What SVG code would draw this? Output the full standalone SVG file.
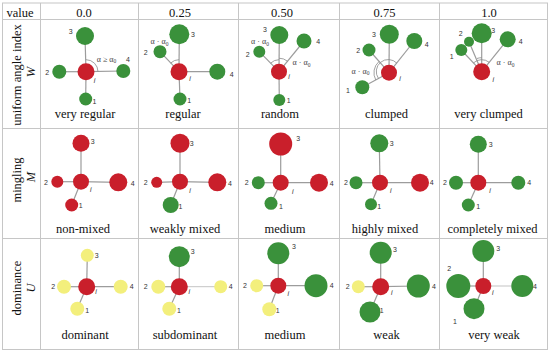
<svg xmlns="http://www.w3.org/2000/svg" width="550" height="356" viewBox="0 0 550 356">
<defs>
<style>
.g{fill:#3a913b}
.r{fill:#c91f2b}
.y{fill:#f3ef7c}
.ln{stroke:#9c9c9c;stroke-width:1.2}
.lnt{stroke:#b4b4b4;stroke-width:0.8}
.arc{fill:none;stroke:#8a8a8a;stroke-width:0.8}
.n{font-size:7px;fill:#333;text-anchor:middle}
.i{font-size:7px;font-style:italic;fill:#333;text-anchor:middle}
.a{font-size:8px;fill:#444;text-anchor:middle}
.sub{font-size:5.5px}
.cap{font-size:12.5px;fill:#111;text-anchor:middle}
.it{font-style:italic}
.grid{stroke:#c6c6c6;stroke-width:1;fill:none}
</style>
</defs>
<rect width="550" height="356" fill="#fff"/>

<g id="table">
<rect class="grid" x="2.5" y="3" width="545" height="346.5"/>
<line class="grid" x1="2.5" y1="19.5" x2="547.5" y2="19.5"/>
<line class="grid" x1="2.5" y1="128.5" x2="547.5" y2="128.5"/>
<line class="grid" x1="2.5" y1="238.5" x2="547.5" y2="238.5"/>
<line class="grid" x1="40.5" y1="3" x2="40.5" y2="349.5"/>
<line class="grid" x1="138.5" y1="3" x2="138.5" y2="349.5"/>
<line class="grid" x1="238.5" y1="3" x2="238.5" y2="349.5"/>
<line class="grid" x1="339.5" y1="3" x2="339.5" y2="349.5"/>
<line class="grid" x1="439.5" y1="3" x2="439.5" y2="349.5"/>
</g>

<g id="headers" font-family="Liberation Serif, Times New Roman, DejaVu Serif, serif">
<text class="cap" x="20" y="16.5">value</text>
<text class="cap" x="84" y="17">0.0</text>
<text class="cap" x="180" y="17">0.25</text>
<text class="cap" x="282" y="17">0.50</text>
<text class="cap" x="384.5" y="17">0.75</text>
<text class="cap" x="489" y="17">1.0</text>
<text class="cap" transform="translate(21,75) rotate(-90)">uniform angle index</text>
<text class="cap it" transform="translate(35,72) rotate(-90)">W</text>
<text class="cap" transform="translate(21,180) rotate(-90)">mingling</text>
<text class="cap it" transform="translate(35,177) rotate(-90)">M</text>
<text class="cap" transform="translate(21,288) rotate(-90)">dominance</text>
<text class="cap it" transform="translate(35,288) rotate(-90)">U</text>
</g>

<g id="captions" font-family="Liberation Serif, Times New Roman, DejaVu Serif, serif">
<text class="cap" x="85" y="118">very regular</text>
<text class="cap" x="183" y="118">regular</text>
<text class="cap" x="280" y="118">random</text>
<text class="cap" x="386.5" y="118">clumped</text>
<text class="cap" x="488.5" y="118">very clumped</text>
<text class="cap" x="83" y="232.5">non-mixed</text>
<text class="cap" x="185" y="232.5">weakly mixed</text>
<text class="cap" x="285" y="232.5">medium</text>
<text class="cap" x="385" y="232.5">highly mixed</text>
<text class="cap" x="492.5" y="232.5">completely mixed</text>
<text class="cap" x="85" y="339">dominant</text>
<text class="cap" x="185" y="339">subdominant</text>
<text class="cap" x="285" y="339">medium</text>
<text class="cap" x="386.5" y="339">weak</text>
<text class="cap" x="494" y="339">very weak</text>
</g>

<g id="connectors">
<line class="ln" x1="86" y1="71.7" x2="85" y2="36"/>
<line class="ln" x1="86" y1="71.7" x2="59.3" y2="71.7"/>
<line class="ln" x1="86" y1="71.7" x2="123.3" y2="71"/>
<line class="ln" x1="86" y1="71.7" x2="85.7" y2="99"/>
<line class="ln" x1="179" y1="71.7" x2="179.3" y2="34.3"/>
<line class="ln" x1="179" y1="71.7" x2="160" y2="51.7"/>
<line class="ln" x1="179" y1="71.7" x2="217.3" y2="71.7"/>
<line class="ln" x1="179" y1="71.7" x2="180" y2="99"/>
<line class="ln" x1="279" y1="71.7" x2="279.3" y2="35"/>
<line class="ln" x1="279" y1="71.7" x2="259.3" y2="51.7"/>
<line class="ln" x1="279" y1="71.7" x2="304" y2="41"/>
<line class="ln" x1="279" y1="71.7" x2="279.3" y2="100"/>
<line class="ln" x1="389" y1="72.7" x2="389.3" y2="34.3"/>
<line class="ln" x1="389" y1="72.7" x2="369" y2="50"/>
<line class="ln" x1="389" y1="72.7" x2="414.3" y2="41"/>
<line class="ln" x1="389" y1="72.7" x2="362.3" y2="87.3"/>
<line class="ln" x1="481.7" y1="71.7" x2="481.7" y2="33.3"/>
<line class="ln" x1="481.7" y1="71.7" x2="469" y2="41.7"/>
<line class="ln" x1="481.7" y1="71.7" x2="461.3" y2="50"/>
<line class="ln" x1="481.7" y1="71.7" x2="507.7" y2="39.3"/>
<line class="ln" x1="81" y1="181.7" x2="81" y2="143.3"/>
<line class="ln" x1="81" y1="181.7" x2="57.3" y2="181.7"/>
<line class="ln" x1="81" y1="181.7" x2="118.3" y2="182.3"/>
<line class="ln" x1="81" y1="181.7" x2="71.7" y2="205"/>
<line class="ln" x1="180" y1="181.7" x2="180" y2="143.3"/>
<line class="ln" x1="180" y1="181.7" x2="156.7" y2="182.3"/>
<line class="ln" x1="180" y1="181.7" x2="217.3" y2="182.3"/>
<line class="ln" x1="180" y1="181.7" x2="170.7" y2="205"/>
<line class="ln" x1="280.7" y1="182.7" x2="280.7" y2="144"/>
<line class="ln" x1="280.7" y1="182.7" x2="258.3" y2="182.7"/>
<line class="ln" x1="280.7" y1="182.7" x2="319" y2="182.7"/>
<line class="ln" x1="280.7" y1="182.7" x2="271" y2="203.3"/>
<line class="ln" x1="380" y1="182.7" x2="379.3" y2="143.3"/>
<line class="ln" x1="380" y1="182.7" x2="356" y2="182.7"/>
<line class="ln" x1="380" y1="182.7" x2="420" y2="182.7"/>
<line class="ln" x1="380" y1="182.7" x2="371" y2="204.3"/>
<line class="ln" x1="478.3" y1="182.7" x2="478.3" y2="144.3"/>
<line class="ln" x1="478.3" y1="182.7" x2="456" y2="182.7"/>
<line class="ln" x1="478.3" y1="182.7" x2="518.3" y2="182.7"/>
<line class="ln" x1="478.3" y1="182.7" x2="468.3" y2="205"/>
<line class="ln" x1="86.7" y1="286.7" x2="87.3" y2="255.3"/>
<line class="ln" x1="86.7" y1="286.7" x2="64" y2="286.7"/>
<line class="ln" x1="86.7" y1="286.7" x2="120.7" y2="286.7"/>
<line class="ln" x1="86.7" y1="286.7" x2="77.3" y2="308.7"/>
<line class="ln" x1="179.3" y1="286.7" x2="179.3" y2="256.7"/>
<line class="ln" x1="179.3" y1="286.7" x2="158.3" y2="286.7"/>
<line class="lnt" x1="179.3" y1="286.7" x2="220.7" y2="286.7"/>
<line class="ln" x1="179.3" y1="286.7" x2="169.3" y2="308.7"/>
<line class="ln" x1="278.3" y1="285.7" x2="278.3" y2="253.3"/>
<line class="ln" x1="278.3" y1="285.7" x2="256.7" y2="285.7"/>
<line class="ln" x1="278.3" y1="285.7" x2="316" y2="285.7"/>
<line class="ln" x1="278.3" y1="285.7" x2="269.3" y2="309.3"/>
<line class="ln" x1="380.7" y1="286.7" x2="380.7" y2="252.7"/>
<line class="ln" x1="380.7" y1="286.7" x2="358.3" y2="286.7"/>
<line class="ln" x1="380.7" y1="286.7" x2="418.3" y2="286"/>
<line class="ln" x1="380.7" y1="286.7" x2="370" y2="312"/>
<line class="ln" x1="483.3" y1="286" x2="483.3" y2="251"/>
<line class="ln" x1="483.3" y1="286" x2="458.3" y2="286"/>
<line class="lnt" x1="483.3" y1="286" x2="522.3" y2="286"/>
<line class="ln" x1="483.3" y1="286" x2="474" y2="308.7"/>
</g>

<g id="angles">
<path class="arc" d="M86,59.7 A12,12 0 0 1 98,71.7"/>
<path class="arc" d="M170.7,63 A12,12 0 0 1 179,59.7"/>
<path class="arc" d="M270.6,63.2 A12,12 0 0 1 279,59.7"/>
<path class="arc" d="M279,58.2 A13.5,13.5 0 0 1 287.5,61.2"/>
<path class="arc" d="M378.5,78.5 A12,12 0 0 1 397,63.3"/>
<path class="arc" d="M375.8,80 A15,15 0 0 1 379,61.5"/>
<path class="arc" d="M473.5,62.9 A12,12 0 0 1 489.2,62.3"/>
<path class="arc" d="M477,58.5 A14,14 0 0 1 481.7,57.7"/>
<g font-family="Liberation Serif, Times New Roman, DejaVu Serif, serif">
<text class="a" x="106.5" y="61.5">α ≥ α<tspan class="sub" dy="1.5">0</tspan></text>
<text class="a" x="159.5" y="44">α · α<tspan class="sub" dy="1.5">0</tspan></text>
<text class="a" x="260" y="44">α · α<tspan class="sub" dy="1.5">0</tspan></text>
<text class="a" x="301.5" y="65">α · α<tspan class="sub" dy="1.5">0</tspan></text>
<text class="a" x="360.5" y="73.5">α · α<tspan class="sub" dy="1.5">0</tspan></text>
<text class="a" x="505.5" y="65">α · α<tspan class="sub" dy="1.5">0</tspan></text>
</g>
</g>

<g id="nodes" font-family="Liberation Sans, Arial, sans-serif">
<g id="W000">
<g id="W000-3"><circle class="g" cx="85" cy="36" r="9"/><text class="n" x="70.7" y="33.5">3</text></g>
<g id="W000-2"><circle class="g" cx="59.3" cy="71.7" r="7"/><text class="n" x="47.3" y="74.5">2</text></g>
<g id="W000-4"><circle class="g" cx="123.3" cy="71" r="7"/><text class="n" x="128" y="61.5">4</text></g>
<g id="W000-1"><circle class="g" cx="85.7" cy="99" r="6.5"/><text class="n" x="94.5" y="103.5">1</text></g>
<g id="W000-i"><circle class="r" cx="86" cy="71.7" r="8.5"/><text class="i" x="94.5" y="82.5">i</text></g>
</g>
<g id="W025">
<g id="W025-3"><circle class="g" cx="179.3" cy="34.3" r="10"/><text class="n" x="193" y="37">3</text></g>
<g id="W025-2"><circle class="g" cx="160" cy="51.7" r="6.5"/><text class="n" x="145.7" y="55">2</text></g>
<g id="W025-4"><circle class="g" cx="217.3" cy="71.7" r="8"/><text class="n" x="231.7" y="77">4</text></g>
<g id="W025-1"><circle class="g" cx="180" cy="99" r="6.5"/><text class="n" x="189.3" y="103">1</text></g>
<g id="W025-i"><circle class="r" cx="179" cy="71.7" r="8.5"/><text class="i" x="190" y="80.5">i</text></g>
</g>
<g id="W050">
<g id="W050-3"><circle class="g" cx="279.3" cy="35" r="9"/><text class="n" x="265" y="31.5">3</text></g>
<g id="W050-2"><circle class="g" cx="259.3" cy="51.7" r="6"/><text class="n" x="247.7" y="56.5">2</text></g>
<g id="W050-4"><circle class="g" cx="304" cy="41" r="7.5"/><text class="n" x="318.3" y="44">4</text></g>
<g id="W050-1"><circle class="g" cx="279.3" cy="100" r="6"/><text class="n" x="288.7" y="103">1</text></g>
<g id="W050-i"><circle class="r" cx="279" cy="71.7" r="8"/><text class="i" x="289" y="79">i</text></g>
</g>
<g id="W075">
<g id="W075-3"><circle class="g" cx="389.3" cy="34.3" r="9.5"/><text class="n" x="374" y="36.5">3</text></g>
<g id="W075-2"><circle class="g" cx="369" cy="50" r="6.5"/><text class="n" x="358.3" y="52.5">2</text></g>
<g id="W075-4"><circle class="g" cx="414.3" cy="41" r="8"/><text class="n" x="426.7" y="46.5">4</text></g>
<g id="W075-1"><circle class="g" cx="362.3" cy="87.3" r="7"/><text class="n" x="348" y="93">1</text></g>
<g id="W075-i"><circle class="r" cx="389" cy="72.7" r="8"/><text class="i" x="400" y="80.5">i</text></g>
</g>
<g id="W100">
<g id="W100-3"><circle class="g" cx="481.7" cy="33.3" r="10"/><text class="n" x="493.3" y="32.5">3</text></g>
<g id="W100-2"><circle class="g" cx="469" cy="41.7" r="5"/><text class="n" x="460.7" y="35.5">2</text></g>
<g id="W100-1"><circle class="g" cx="461.3" cy="50" r="6"/><text class="n" x="451.7" y="59">1</text></g>
<g id="W100-4"><circle class="g" cx="507.7" cy="39.3" r="8"/><text class="n" x="520.7" y="44">4</text></g>
<g id="W100-i"><circle class="r" cx="481.7" cy="71.7" r="8.5"/><text class="i" x="493.3" y="82">i</text></g>
</g>

<g id="M000">
<g id="M000-3"><circle class="r" cx="81" cy="143.3" r="8.5"/><text class="n" x="92.7" y="144">3</text></g>
<g id="M000-2"><circle class="r" cx="57.3" cy="181.7" r="6"/><text class="n" x="46" y="185">2</text></g>
<g id="M000-4"><circle class="r" cx="118.3" cy="182.3" r="9"/><text class="n" x="132.7" y="185.5">4</text></g>
<g id="M000-1"><circle class="r" cx="71.7" cy="205" r="6.5"/><text class="n" x="80.7" y="207.5">1</text></g>
<g id="M000-i"><circle class="r" cx="81" cy="181.7" r="8"/><text class="i" x="90.7" y="192">i</text></g>
</g>
<g id="M025">
<g id="M025-3"><circle class="r" cx="180" cy="143.3" r="9.5"/><text class="n" x="191.7" y="145.5">3</text></g>
<g id="M025-2"><circle class="r" cx="156.7" cy="182.3" r="5.5"/><text class="n" x="145.7" y="185">2</text></g>
<g id="M025-4"><circle class="r" cx="217.3" cy="182.3" r="9"/><text class="n" x="230" y="185.5">4</text></g>
<g id="M025-1"><circle class="g" cx="170.7" cy="205" r="8"/><text class="n" x="180.5" y="208.5">1</text></g>
<g id="M025-i"><circle class="r" cx="180" cy="181.7" r="8"/><text class="i" x="190" y="193">i</text></g>
</g>
<g id="M050">
<g id="M050-3"><circle class="r" cx="280.7" cy="144" r="11.5"/><text class="n" x="298.3" y="140.5">3</text></g>
<g id="M050-2"><circle class="g" cx="258.3" cy="182.7" r="6.5"/><text class="n" x="246.7" y="185">2</text></g>
<g id="M050-4"><circle class="r" cx="319" cy="182.7" r="9"/><text class="n" x="331.7" y="185.5">4</text></g>
<g id="M050-1"><circle class="g" cx="271" cy="203.3" r="6.5"/><text class="n" x="281" y="208.5">1</text></g>
<g id="M050-i"><circle class="r" cx="280.7" cy="182.7" r="8"/><text class="i" x="292.7" y="194">i</text></g>
</g>
<g id="M075">
<g id="M075-3"><circle class="g" cx="379.3" cy="143.3" r="9"/><text class="n" x="391.7" y="145.5">3</text></g>
<g id="M075-2"><circle class="g" cx="356" cy="182.7" r="6.5"/><text class="n" x="346" y="185">2</text></g>
<g id="M075-4"><circle class="r" cx="420" cy="182.7" r="9"/><text class="n" x="431.7" y="185">4</text></g>
<g id="M075-1"><circle class="g" cx="371" cy="204.3" r="6"/><text class="n" x="379.3" y="208.5">1</text></g>
<g id="M075-i"><circle class="r" cx="380" cy="182.7" r="8"/><text class="i" x="390.7" y="193">i</text></g>
</g>
<g id="M100">
<g id="M100-3"><circle class="g" cx="478.3" cy="144.3" r="8.5"/><text class="n" x="490.7" y="146.5">3</text></g>
<g id="M100-2"><circle class="g" cx="456" cy="182.7" r="7"/><text class="n" x="445" y="185">2</text></g>
<g id="M100-4"><circle class="g" cx="518.3" cy="182.7" r="7"/><text class="n" x="529.3" y="185">4</text></g>
<g id="M100-1"><circle class="g" cx="468.3" cy="205" r="6.5"/><text class="n" x="478.3" y="208.5">1</text></g>
<g id="M100-i"><circle class="r" cx="478.3" cy="182.7" r="8"/><text class="i" x="490" y="193">i</text></g>
</g>

<g id="U000">
<g id="U000-3"><circle class="y" cx="87.3" cy="255.3" r="6.5"/><text class="n" x="96.7" y="257.5">3</text></g>
<g id="U000-2"><circle class="y" cx="64" cy="286.7" r="7"/><text class="n" x="53.3" y="289">2</text></g>
<g id="U000-4"><circle class="y" cx="120.7" cy="286.7" r="7"/><text class="n" x="131.7" y="289">4</text></g>
<g id="U000-1"><circle class="y" cx="77.3" cy="308.7" r="7"/><text class="n" x="87.3" y="312.5">1</text></g>
<g id="U000-i"><circle class="r" cx="86.7" cy="286.7" r="8.5"/><text class="i" x="96" y="293.5">i</text></g>
</g>
<g id="U025">
<g id="U025-3"><circle class="g" cx="179.3" cy="256.7" r="10.5"/><text class="n" x="192.7" y="253.5">3</text></g>
<g id="U025-2"><circle class="y" cx="158.3" cy="286.7" r="7"/><text class="n" x="145.7" y="289">2</text></g>
<g id="U025-4"><circle class="y" cx="220.7" cy="286.7" r="6.5"/><text class="n" x="230.7" y="288.5">4</text></g>
<g id="U025-1"><circle class="y" cx="169.3" cy="308.7" r="7"/><text class="n" x="179" y="312.5">1</text></g>
<g id="U025-i"><circle class="r" cx="179.3" cy="286.7" r="8.5"/><text class="i" x="189.3" y="293.5">i</text></g>
</g>
<g id="U050">
<g id="U050-3"><circle class="g" cx="278.3" cy="253.3" r="11"/><text class="n" x="294" y="248.5">3</text></g>
<g id="U050-2"><circle class="y" cx="256.7" cy="285.7" r="6.5"/><text class="n" x="245" y="288">2</text></g>
<g id="U050-4"><circle class="g" cx="316" cy="285.7" r="11.5"/><text class="n" x="331.7" y="288">4</text></g>
<g id="U050-1"><circle class="y" cx="269.3" cy="309.3" r="7"/><text class="n" x="277.7" y="312.5">1</text></g>
<g id="U050-i"><circle class="r" cx="278.3" cy="285.7" r="8"/><text class="i" x="288.3" y="295.5">i</text></g>
</g>
<g id="U075">
<g id="U075-3"><circle class="g" cx="380.7" cy="252.7" r="11"/><text class="n" x="395" y="251.5">3</text></g>
<g id="U075-2"><circle class="y" cx="358.3" cy="286.7" r="6.5"/><text class="n" x="347.7" y="289">2</text></g>
<g id="U075-4"><circle class="g" cx="418.3" cy="286" r="11.5"/><text class="n" x="434" y="289">4</text></g>
<g id="U075-1"><circle class="g" cx="370" cy="312" r="10.5"/><text class="n" x="381.7" y="312.5">1</text></g>
<g id="U075-i"><circle class="r" cx="380.7" cy="286.7" r="8.5"/><text class="i" x="391.7" y="295">i</text></g>
</g>
<g id="U100">
<g id="U100-3"><circle class="g" cx="483.3" cy="251" r="11"/><text class="n" x="498.3" y="251">3</text></g>
<g id="U100-2"><circle class="g" cx="458.3" cy="286" r="12"/><text class="n" x="449.3" y="270.5">2</text></g>
<g id="U100-4"><circle class="g" cx="522.3" cy="286" r="11"/><text class="n" x="535" y="288.5">4</text></g>
<g id="U100-1"><circle class="g" cx="474" cy="308.7" r="10.5"/><text class="n" x="455" y="323.5">1</text></g>
<g id="U100-i"><circle class="r" cx="483.3" cy="286" r="8"/><text class="i" x="492.7" y="295">i</text></g>
</g>
</g>
</svg>
